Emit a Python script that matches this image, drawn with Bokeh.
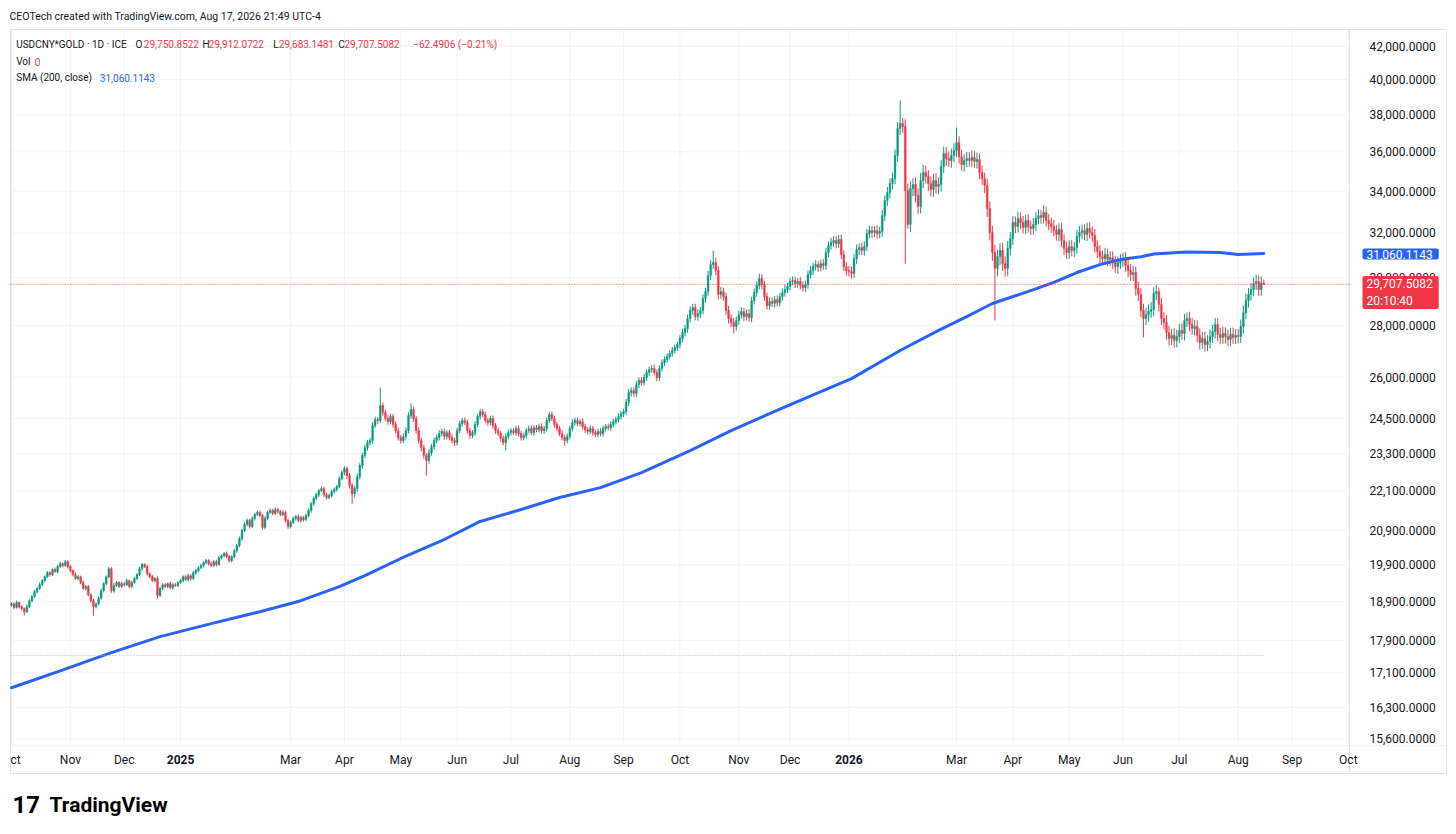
import numpy as np
import pandas as pd
from bokeh.plotting import figure
from bokeh.models import Range1d, Label, ColumnDataSource, LogScale, BoxAnnotation, Grid
from bokeh.embed import file_html
from bokeh.resources import INLINE

# ---------------- data ----------------
START_DATE = "2024-10-01"          # first daily bar (weekdays only)
AXIS_END = "2026-10-30"            # time scale extends into the future
PRICE_OFFSET = 1300                # TradingView log-scale offset fitted to the price axis

closes = [
    # 2024-10
    18840, 18740, 18870, 18760, 18710, 18630, 18760, 18920, 19030, 19170, 19250, 19350, 19460, 19570, 19680, 19630, 19770, 19710, 19850, 19930, 19880, 19990, 19850,
    # 2024-11
    19740, 19630, 19520, 19570, 19410, 19250, 19300, 19080, 18920, 18760, 18840, 18980, 19190, 19380, 19570, 19790, 19190, 19330, 19410, 19300, 19380,
    # 2024-12
    19350, 19460, 19300, 19410, 19520, 19630, 19790, 19910, 19850, 19650, 19570, 19460, 19520, 19060, 19250, 19350, 19300, 19380, 19270, 19350, 19330, 19410,
    # 2025-01
    19460, 19570, 19490, 19600, 19520, 19680, 19740, 19820, 19880, 19960, 20020, 19930, 19880, 19990, 19910, 20100, 20160, 20220, 20130, 20020, 20130, 20300, 20450,
    # 2025-02
    20650, 20890, 21070, 21190, 21010, 21250, 21370, 21430, 21340, 20980, 21250, 21430, 21490, 21400, 21520, 21460, 21370, 21430, 21190, 21010,
    # 2025-03
    21130, 21250, 21310, 21190, 21280, 21220, 21340, 21490, 21700, 21860, 21980, 22110, 22170, 21980, 21890, 21950, 22080, 22140, 22230, 22490, 22680,
    # 2025-04
    22810, 22580, 22270, 22010, 22170, 22550, 22910, 23240, 23500, 23670, 23740, 24250, 24460, 24430, 24960, 24710, 24500, 24390, 24570, 24290, 24080, 23840,
    # 2025-05
    23740, 23880, 24080, 24600, 24820, 24500, 24080, 23740, 23500, 23240, 23070, 23330, 23540, 23740, 23840, 23980, 24050, 23880, 24010, 23840, 23740, 23670,
    # 2025-06
    24080, 24320, 24430, 24360, 24080, 23910, 24010, 24290, 24570, 24740, 24640, 24430, 24360, 24500, 24250, 24080, 23980, 23810, 23670, 23880, 24010,
    # 2025-07
    24080, 24010, 24150, 23980, 23840, 23910, 24080, 24150, 24010, 24180, 24110, 24220, 24080, 24150, 24430, 24640, 24500, 24290, 24150, 23980, 23840, 23740, 23880,
    # 2025-08
    24150, 24360, 24430, 24320, 24390, 24220, 24110, 24050, 24150, 24010, 23950, 24050, 23980, 24150, 24220, 24180, 24290, 24390, 24460, 24570, 24670,
    # 2025-09
    24740, 25070, 25430, 25500, 25390, 25720, 25870, 25790, 25980, 26170, 26280, 26320, 26170, 25980, 26320, 26540, 26660, 26770, 26890, 27010, 27120, 27240,
    # 2025-10
    27480, 27720, 27880, 28280, 28610, 28730, 28360, 28480, 28610, 29110, 29400, 30090, 30570, 30660, 30310, 29280, 29400, 29190, 28610, 28280, 28120, 27960, 28200,
    # 2025-11
    28440, 28570, 28360, 28480, 28320, 29020, 29360, 29660, 29960, 29700, 29190, 28810, 28980, 28900, 29060, 28940, 29190, 29360, 29490, 29620,
    # 2025-12
    29830, 29870, 29740, 29830, 29660, 29570, 29700, 30130, 30310, 30480, 30570, 30440, 30610, 30530, 31110, 31420, 31560, 31650, 31510, 31700, 31020, 30480, 30310,
    # 2026-01
    30260, 30180, 30830, 31240, 31330, 31200, 31380, 31970, 32110, 32020, 32110, 31970, 32070, 32820, 33540, 33930, 34380, 34630, 35810, 37250, 37520, 37350,
    # 2026-02
    34030, 32400, 34130, 34330, 33790, 33250, 34530, 34930, 34730, 34380, 34080, 34530, 34230, 34330, 35240, 35910, 35650, 35550, 35810, 36070,
    # 2026-03
    36490, 35750, 35340, 35550, 35650, 35550, 35700, 35500, 35600, 34930, 34630, 34280, 33150, 32020, 31110, 30400, 30920, 31200, 30610, 30400, 31290, 31740,
    # 2026-04
    32490, 32300, 32680, 32490, 32250, 32580, 32300, 32210, 32390, 32680, 32820, 32730, 32960, 32580, 32440, 32300, 32110, 31930, 32160, 31650, 31290, 31110,
    # 2026-05
    31380, 31200, 31330, 31840, 32020, 32110, 31930, 32210, 32020, 31880, 31380, 31150, 30920, 30830, 31020, 30790, 30880, 30660, 30480, 30660, 30750,
    # 2026-06
    30830, 30530, 30310, 30130, 30220, 29530, 29280, 28610, 28280, 28440, 28570, 28650, 29320, 29400, 28860, 28280, 28120, 27720, 27480, 27600, 27400, 27560,
    # 2026-07
    27800, 27680, 28200, 28280, 28040, 27880, 27960, 27600, 27320, 27480, 27240, 27360, 27560, 27760, 28040, 27640, 27520, 27680, 27560, 27440, 27640, 27520, 27600,
    # 2026-08
    27560, 27960, 28520, 29020, 29280, 29490, 29740, 29830, 29490, 29769.9988, 29707.5082,
]

wick_up = [
    40, 30, 55, 25, 45, 30, 60, 35, 50, 40, 30, 65, 45, 35, 50, 40, 30, 55, 45, 60, 35, 50, 40,
    45, 35, 60, 40, 30, 55, 45, 40, 35, 50, 30, 45, 60, 40, 35, 50, 45, 70, 40, 35, 50,
    40, 55, 35, 45, 50, 40, 60, 45, 35, 50, 40, 45, 35, 60, 50, 40, 45, 35, 55, 40, 45, 35,
    50, 40, 45, 60, 35, 50, 45, 40, 55, 45, 50, 40, 60, 45, 50, 55, 40, 45, 60, 50, 45, 55, 50,
    60, 50, 70, 55, 45, 65, 50, 60, 55, 45, 70, 50, 60, 55, 65, 50, 45, 60, 55, 50,
    55, 60, 50, 65, 55, 50, 60, 70, 55, 65, 60, 50, 70, 55, 60, 65, 50, 60, 55, 70, 65,
    80, 70, 90, 75, 85, 100, 80, 90, 110, 85, 95, 120, 100, 90, 650, 110, 95, 120, 100, 90, 110, 100,
    90, 100, 110, 120, 210, 100, 90, 110, 95, 100, 85, 110, 90, 100, 95, 110, 90, 100, 85, 95, 100, 90,
    95, 100, 90, 110, 100, 95, 90, 110, 100, 110, 100, 95, 90, 100, 110, 95, 100, 90, 95, 100, 110,
    90, 100, 95, 110, 90, 100, 95, 110, 100, 90, 95, 100, 110, 90, 100, 95, 110, 100, 90, 95, 100, 110, 95,
    100, 110, 95, 100, 90, 110, 100, 95, 110, 90, 100, 95, 110, 100, 90, 100, 110, 95, 100, 110, 100,
    110, 120, 130, 110, 120, 130, 115, 125, 140, 110, 120, 130, 150, 110, 120, 130, 110, 125, 115, 130, 120, 110,
    130, 150, 140, 160, 170, 150, 160, 180, 150, 170, 160, 200, 190, 540, 220, 180, 200, 170, 160, 190, 170, 180, 160,
    160, 180, 150, 170, 190, 160, 170, 180, 220, 190, 170, 160, 180, 170, 150, 180, 160, 170, 190, 160,
    160, 180, 170, 150, 190, 170, 160, 180, 200, 170, 190, 160, 180, 200, 210, 190, 220, 200, 190, 210, 230, 200, 190,
    200, 220, 210, 230, 200, 220, 240, 210, 230, 220, 200, 240, 230, 260, 250, 280, 260, 300, 320, 340, 1280, 300,
    400, 350, 380, 320, 360, 340, 380, 400, 350, 330, 360, 340, 380, 350, 330, 360, 340, 370, 350, 380,
    810, 340, 360, 320, 350, 330, 370, 340, 360, 320, 350, 300, 330, 350, 320, 340, 310, 330, 350, 320, 340, 310,
    300, 280, 320, 290, 310, 270, 300, 280, 310, 290, 300, 270, 340, 290, 300, 280, 310, 270, 290, 300, 280, 310,
    280, 300, 270, 290, 310, 280, 300, 270, 290, 280, 300, 270, 290, 280, 300, 270, 290, 280, 300, 270, 290,
    270, 290, 260, 280, 300, 270, 290, 260, 280, 270, 290, 300, 260, 280, 170, 270, 260, 290, 270, 260, 280, 270,
    260, 280, 270, 250, 280, 260, 270, 250, 280, 260, 270, 250, 280, 260, 270, 250, 260, 280, 250, 270, 260, 280, 250,
    260, 280, 300, 290, 270, 280, 260, 290, 270, 280, 161.22,
]

wick_dn = [
    35, 50, 30, 45, 40, 100, 40, 30, 45, 35, 50, 40, 30, 45, 35, 55, 40, 30, 50, 35, 45, 30, 55,
    40, 55, 35, 50, 45, 40, 60, 35, 50, 230, 45, 40, 35, 50, 45, 40, 60, 55, 45, 40, 35,
    45, 35, 50, 40, 35, 45, 40, 55, 35, 45, 50, 40, 45, 80, 40, 50, 35, 45, 40, 55, 35, 45,
    40, 50, 35, 45, 55, 40, 50, 45, 40, 55, 45, 50, 40, 45, 55, 40, 50, 45, 40, 60, 50, 45, 55,
    50, 60, 45, 55, 65, 50, 60, 45, 55, 70, 50, 60, 45, 55, 50, 65, 55, 50, 60, 70,
    60, 50, 65, 55, 60, 70, 50, 55, 65, 60, 50, 70, 55, 65, 60, 50, 55, 65, 60, 50, 55,
    90, 110, 100, 310, 120, 100, 90, 110, 80, 100, 95, 110, 90, 120, 100, 110, 95, 120, 100, 110, 90, 100,
    100, 90, 110, 95, 100, 120, 110, 100, 120, 110, 490, 100, 95, 110, 90, 100, 95, 110, 100, 90, 95, 110,
    100, 90, 110, 95, 100, 110, 90, 100, 95, 110, 100, 90, 110, 95, 100, 110, 90, 100, 95, 270, 100,
    100, 90, 110, 95, 100, 90, 110, 100, 95, 110, 90, 100, 95, 110, 100, 90, 95, 110, 100, 90, 95, 170, 100,
    95, 100, 110, 90, 100, 95, 110, 100, 90, 110, 95, 100, 90, 110, 100, 95, 110, 90, 100, 95, 110,
    120, 110, 130, 140, 110, 120, 130, 115, 110, 125, 130, 120, 110, 140, 120, 110, 130, 120, 110, 125, 115, 130,
    140, 160, 150, 170, 160, 180, 150, 170, 190, 160, 180, 170, 200, 180, 210, 220, 190, 170, 180, 200, 190, 280, 170,
    170, 150, 180, 160, 170, 190, 160, 180, 170, 200, 180, 160, 170, 150, 180, 170, 160, 180, 170, 160,
    170, 160, 190, 180, 170, 160, 190, 180, 170, 200, 180, 190, 170, 200, 190, 210, 180, 200, 220, 190, 210, 200, 230,
    210, 230, 200, 220, 240, 210, 230, 200, 220, 240, 210, 230, 220, 250, 270, 260, 280, 300, 290, 320, 350, 330,
    3420, 200, 350, 380, 340, 360, 330, 370, 350, 380, 340, 360, 330, 370, 350, 340, 360, 330, 370, 350,
    330, 350, 320, 360, 340, 310, 350, 330, 360, 340, 320, 380, 400, 360, 380, 2200, 350, 380, 330, 360, 340, 320,
    290, 310, 280, 300, 270, 310, 290, 300, 280, 310, 270, 300, 290, 280, 310, 300, 270, 290, 310, 280, 300, 290,
    290, 270, 300, 280, 290, 310, 270, 300, 280, 290, 270, 300, 280, 290, 270, 300, 280, 290, 270, 300, 280,
    280, 260, 290, 270, 280, 300, 270, 280, 760, 270, 290, 260, 280, 270, 290, 260, 280, 270, 290, 260, 280, 270,
    270, 250, 280, 260, 270, 250, 280, 260, 270, 250, 280, 260, 270, 250, 280, 260, 270, 250, 280, 260, 270, 250, 260,
    270, 260, 280, 270, 290, 260, 280, 270, 290, 260, 24.3601,
]

first_open = 18800
last_open = 29750.8522

# SMA(200, close): bar index -> value
sma_bars = [0, 19, 39, 58, 78, 97, 113, 128, 138, 152, 168, 183, 199, 214, 230, 246, 265, 281, 296,
            308, 328, 347, 362, 373, 383, 398, 407, 416, 425, 433, 441, 446, 459, 472, 479, 489]
sma_values = [16750, 17150, 17590, 17990, 18320, 18630, 18920, 19300, 19600, 20080, 20590, 21160,
              21520, 21890, 22200, 22680, 23400, 24080, 24670, 25140, 25940, 27010, 27800, 28360,
              28900, 29440, 29790, 30220, 30570, 30790, 30920, 31040, 31130, 31110, 31020, 31060.1143]

price_ticks = [15600, 16300, 17100, 17900, 18900, 19900, 20900, 22100, 23300, 24500, 26000,
               28000, 30000, 32000, 34000, 36000, 38000, 40000, 42000]
marker_level = 17520
last_time_left = "20:10:40"

# ---------------- derived table ----------------
n = len(closes)
assert len(wick_up) == n and len(wick_dn) == n, (n, len(wick_up), len(wick_dn))
opens = [first_open] + closes[:-1]
opens[-1] = last_open
o = np.array(opens, float)
c = np.array(closes, float)
body_top = np.maximum(o, c)
body_bot = np.minimum(o, c)
hi = body_top + np.array(wick_up, float)
lo = body_bot - np.array(wick_dn, float)
UP, DN, BLUE, INK = "#089981", "#F23645", "#2962FF", "#131722"
GRID, BORDER = "#f0f3fa", "#e0e3eb"
col = np.where(c >= o, UP, DN)
src = ColumnDataSource(dict(x=np.arange(n), top=body_top - PRICE_OFFSET, bottom=body_bot - PRICE_OFFSET,
                            hi=hi - PRICE_OFFSET, lo=lo - PRICE_OFFSET, color=col))

# time scale: weekday bars, ticks on first bar of each month (February hidden, as in the reference)
ax_days = pd.bdate_range(START_DATE, AXIS_END)
first_bar = pd.Series(np.arange(len(ax_days)), index=ax_days).groupby(ax_days.to_period("M")).first()
ticks = []
for per, pos in first_bar.items():
    if per.month == 2:
        continue
    ticks.append((int(pos), str(per.year) if per.month == 1 else per.strftime("%b"), per.month == 1))

# ---------------- layout geometry (page pixels) ----------------
W, H = 1454, 832
X0_PX, BAR_PX = 11.0, 2.561                 # page x of bar 0, pixels per bar
PANE_L, PANE_R, PANE_T, PANE_B = 10, 1349, 30, 745
OUT_R, OUT_T, OUT_B = 1446, 29, 773
PRICE_AT_T, PRICE_AT_B = 42978, 15460       # price scale values at pane top / bottom
K = np.log((PRICE_AT_T - PRICE_OFFSET) / (PRICE_AT_B - PRICE_OFFSET)) / (PANE_B - PANE_T)


def idx_at(X):
    return (X - X0_PX) / BAR_PX


def s_at(Y):
    return (PRICE_AT_B - PRICE_OFFSET) * np.exp(K * (PANE_B - Y))


p = figure(width=W, height=H, x_range=Range1d(idx_at(0), idx_at(W)),
           y_range=Range1d(s_at(H), s_at(0)), x_axis_location=None, y_axis_location=None,
           toolbar_location=None, output_backend="svg", min_border=0,
           min_border_left=0, min_border_right=0, min_border_top=0, min_border_bottom=0)
p.y_scale = LogScale()
p.center = [r for r in p.center if not isinstance(r, Grid)]   # grid is drawn inside the pane only
p.outline_line_color = None
p.background_fill_color = "white"
p.border_fill_color = "white"

# grid
tick_s = [t - PRICE_OFFSET for t in price_ticks]
p.segment(x0=[idx_at(PANE_L)] * len(tick_s), x1=[idx_at(PANE_R)] * len(tick_s), y0=tick_s, y1=tick_s,
          line_color=GRID, line_width=1)
tpos = [t[0] for t in ticks]
p.segment(x0=tpos, x1=tpos, y0=[s_at(PANE_T)] * len(tpos), y1=[s_at(PANE_B)] * len(tpos),
          line_color=GRID, line_width=1)

# widget borders
p.quad(left=idx_at(PANE_L), right=idx_at(OUT_R), top=s_at(OUT_T), bottom=s_at(OUT_B),
       fill_color=None, line_color=BORDER, line_width=1)
p.segment(x0=idx_at(PANE_R), x1=idx_at(PANE_R), y0=s_at(OUT_T), y1=s_at(OUT_B), line_color=BORDER)
p.segment(x0=idx_at(PANE_L), x1=idx_at(OUT_R), y0=s_at(PANE_B), y1=s_at(PANE_B), line_color="#f0f0f0")

# candles
p.segment(x0="x", y0="lo", x1="x", y1="hi", line_color="color", line_width=1, source=src)
p.vbar(x="x", width=0.7, top="top", bottom="bottom", fill_color="color",
       line_color="color", line_width=0.4, source=src)

# SMA 200
p.line(sma_bars, np.array(sma_values) - PRICE_OFFSET, line_color=BLUE, line_width=3,
       line_join="round", line_cap="round")

# dotted lines
p.line([idx_at(PANE_L), n - 1], [marker_level - PRICE_OFFSET] * 2, line_color="#d9a3aa",
       line_width=1, line_dash="1 2")
p.line([idx_at(PANE_L), idx_at(PANE_R)], [closes[-1] - PRICE_OFFSET] * 2, line_color=DN,
       line_width=1, line_dash="1 2")

FONT = "Roboto"


def txt(X, Y, s, color=INK, size="10px", style="normal", align="left", **kw):
    p.add_layout(Label(x=X, y=H - Y, x_units="screen", y_units="screen", text=s,
                       text_color=color, text_font=FONT, text_font_size=size,
                       text_font_style=style, text_align=align, text_baseline="middle", **kw))


# price scale labels
for t in price_ticks:
    p.add_layout(Label(x=1369, y=t - PRICE_OFFSET, x_units="screen", y_units="data",
                       text=f"{t:,.4f}", text_color=INK, text_font=FONT, text_font_size="12px",
                       text_baseline="middle"))

# time scale labels
for pos, lab, is_year in ticks:
    p.add_layout(Label(x=pos, y=H - 759, x_units="data", y_units="screen", text=lab,
                       text_color=INK, text_font=FONT, text_font_size="12px",
                       text_font_style="bold" if is_year else "normal",
                       text_align="center", text_baseline="middle"))
# the widget clips the first label at its left edge
p.add_layout(BoxAnnotation(left=0, right=PANE_L - 0.5, bottom=H - OUT_B + 1, top=H - PANE_B - 1,
                           left_units="screen", right_units="screen", top_units="screen",
                           bottom_units="screen", fill_color="white", fill_alpha=1, line_color=None))

# header and legend
txt(9, 16, "CEOTech created with TradingView.com, Aug 17, 2026 21:49 UTC-4", size="10.5px")
txt(15.7, 43.5, "USDCNY*GOLD · 1D · ICE")
for X, s, col_ in [(135, "O", INK), (143.3, f"{last_open:,.4f}", DN), (202, "H", INK),
                   (208.3, f"{hi[-1]:,.4f}", DN), (272.7, "L", INK), (278.3, f"{lo[-1]:,.4f}", DN),
                   (337.7, "C", INK), (344, f"{closes[-1]:,.4f}", DN)]:
    txt(X, 43.5, s, color=col_)
chg = closes[-1] - closes[-2]
txt(412.7, 43.5, f"\u2212{abs(chg):.4f} (\u2212{abs(chg) / closes[-2] * 100:.2f}%)", color=DN)
txt(15.7, 61, "Vol")
txt(34.3, 61, "0", color=DN)
txt(15.7, 77.3, "SMA (200, close)")
txt(99.3, 77.3, f"{sma_values[-1]:,.4f}", color=BLUE)

# price badges on the scale
txt(1362, 253.5, f"{sma_values[-1]:,.4f}", color="white", size="12px",
    background_fill_color=BLUE, padding=dict(left=4, right=6, top=1, bottom=1), border_radius=2)
txt(1362, 292, f"{closes[-1]:,.4f}\n{last_time_left}", color="white", size="12px",
    background_fill_color=DN, padding=dict(left=4, right=6, top=1, bottom=1), border_radius=2)

# footer logo
txt(12, 804, "17", size="24px", style="bold", color="#000000")
txt(49, 804, "TradingView", size="21px", style="bold", color="#000000")

open("out.html", "w").write(file_html(p, INLINE))
